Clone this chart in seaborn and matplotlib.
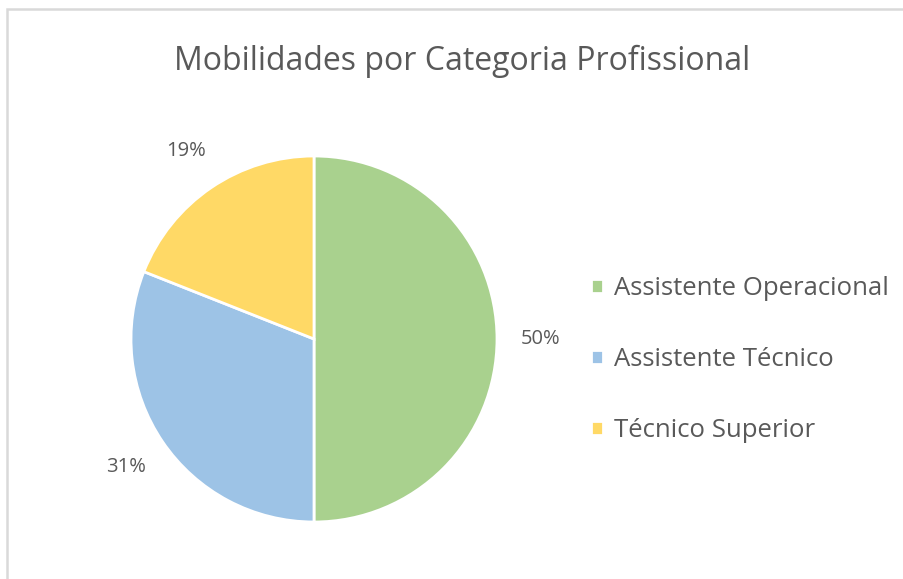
import matplotlib
matplotlib.use("Agg")
import matplotlib.pyplot as plt
import seaborn as sns
from matplotlib.patches import Rectangle

categories = ["Assistente Operacional", "Assistente Técnico", "Técnico Superior"]
values = [50, 31, 19]
colors = ["#A9D18E", "#9DC3E6", "#FFD966"]
title = "Mobilidades por Categoria Profissional"

sns.set_theme(style="white")
plt.rcParams['font.family'] = ['Open Sans', 'DejaVu Sans']
text_color = "#595959"

W, H = 904, 579
fig = plt.figure(figsize=(W / 100, H / 100), dpi=100)
fig.patch.set_facecolor("white")

# chart border
fig.patches.append(Rectangle((7 / W, -0.1), 1.2, (H - 9) / H + 0.1, transform=fig.transFigure,
                             fill=False, edgecolor="#D9D9D9", linewidth=1.8))

cx, cy, r = 314, 339, 183
ax = fig.add_axes([(cx - r) / W, (H - cy - r) / H, 2 * r / W, 2 * r / H])
wedges, texts, autotexts = ax.pie(values, colors=sns.color_palette(colors), startangle=90,
                                  counterclock=False, autopct="%1.0f%%", pctdistance=1.24,
                                  wedgeprops=dict(edgecolor="white", linewidth=2),
                                  textprops=dict(color=text_color, fontsize=14.5))
ax.set_xlim(-1, 1)
ax.set_ylim(-1, 1)
ax.set_aspect("equal")
ax.axis("off")

fig.text(462 / W, 1 - 61 / H, title, ha="center", va="center", fontsize=23, color=text_color)

leg = fig.legend(wedges, categories, loc="upper left", bbox_to_anchor=(591 / W, 1 - 276 / H),
                 frameon=False, fontsize=18.5, labelcolor=text_color, handlelength=0.45,
                 handleheight=0.45, handletextpad=0.45, labelspacing=1.8, borderpad=0, borderaxespad=0)

fig.savefig("out.png", dpi=100)
